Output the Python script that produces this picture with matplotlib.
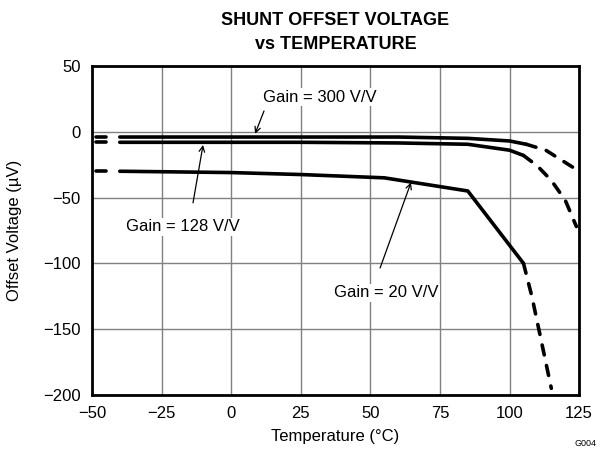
import numpy as np
import matplotlib
matplotlib.use("Agg")
import matplotlib.pyplot as plt

plt.rcParams['font.family'] = ['Liberation Sans', 'DejaVu Sans']

# solid (specified) parts of each curve
g300_x = [-40, 25, 60, 85, 100, 106]
g300_y = [-4, -4, -4, -5, -7, -9.5]
g128_x = [-40, 25, 60, 85, 100, 105]
g128_y = [-8, -8, -8.5, -9.5, -14, -18]
g20_x = [-40, 0, 25, 55, 85, 105]
g20_y = [-30, -31, -32.5, -35, -45, -100]

# dashed extrapolated parts
g300_dx = [106, 113, 119, 125]
g300_dy = [-9.5, -14, -22, -30]
g128_dx = [105, 110, 115, 120, 124]
g128_dy = [-18, -26, -37, -52, -72]
g20_dx = [105, 108, 111, 115]
g20_dy = [-100, -125, -155, -195]

# little dashes at the left end
stub_x = [-48.5, -45]
stub_y = [-4, -8, -30]

xticks = [-50, -25, 0, 25, 50, 75, 100, 125]
yticks = [50, 0, -50, -100, -150, -200]

fig = plt.figure(figsize=(6.09, 4.55), dpi=100)
ax = fig.add_axes([0.151, 0.132, 0.8, 0.723])

lw = 2.6
for x, y in [(g300_x, g300_y), (g128_x, g128_y), (g20_x, g20_y)]:
    ax.plot(x, y, color='black', lw=lw, solid_capstyle='round', zorder=3)
for x, y in [(g300_dx, g300_dy), (g128_dx, g128_dy), (g20_dx, g20_dy)]:
    ax.plot(x, y, color='black', lw=lw, linestyle=(0, (2.8, 3.0)),
            dash_capstyle='round', zorder=3)
for yv in stub_y:
    ax.plot(stub_x, [yv, yv], color='black', lw=lw, solid_capstyle='round', zorder=3)

ax.set_xlim(-50, 125)
ax.set_ylim(-200, 50)
ax.set_xticks(xticks)
ax.set_yticks(yticks)
ax.grid(True, color='#808080', lw=1.0, zorder=0)
ax.tick_params(length=0, labelsize=12, pad=8)
for s in ax.spines.values():
    s.set_linewidth(2)

ax.set_xlabel('Temperature (°C)', fontsize=12, labelpad=6)
ax.set_ylabel('Offset Voltage (µV)', fontsize=12, labelpad=15)
ax.set_title('SHUNT OFFSET VOLTAGE\nvs TEMPERATURE', fontsize=13, fontweight='bold',
             linespacing=1.55, pad=12)

box = dict(facecolor='white', edgecolor='none', pad=1)
arrow = dict(arrowstyle='->', color='black', lw=0.9, shrinkA=0, shrinkB=0)
ax.annotate('', xy=(8.6, -1.5), xytext=(11.8, 15.8), arrowprops=arrow, zorder=4)
ax.text(32.0, 26.4, 'Gain = 300 V/V', fontsize=12, ha='center', va='center', bbox=box, zorder=2)
ax.annotate('', xy=(-10.1, -10), xytext=(-13.7, -54), arrowprops=arrow, zorder=4)
ax.text(-17.5, -72.3, 'Gain = 128 V/V', fontsize=12, ha='center', va='center', bbox=box, zorder=2)
ax.annotate('', xy=(64.6, -38.5), xytext=(53.5, -103.5), arrowprops=arrow, zorder=4)
ax.text(55.6, -122.5, 'Gain = 20 V/V', fontsize=12, ha='center', va='center', bbox=box, zorder=2)

fig.text(0.961, 0.015, 'G004', fontsize=6.5, ha='center', va='bottom')

fig.savefig('out.png', dpi=100)
